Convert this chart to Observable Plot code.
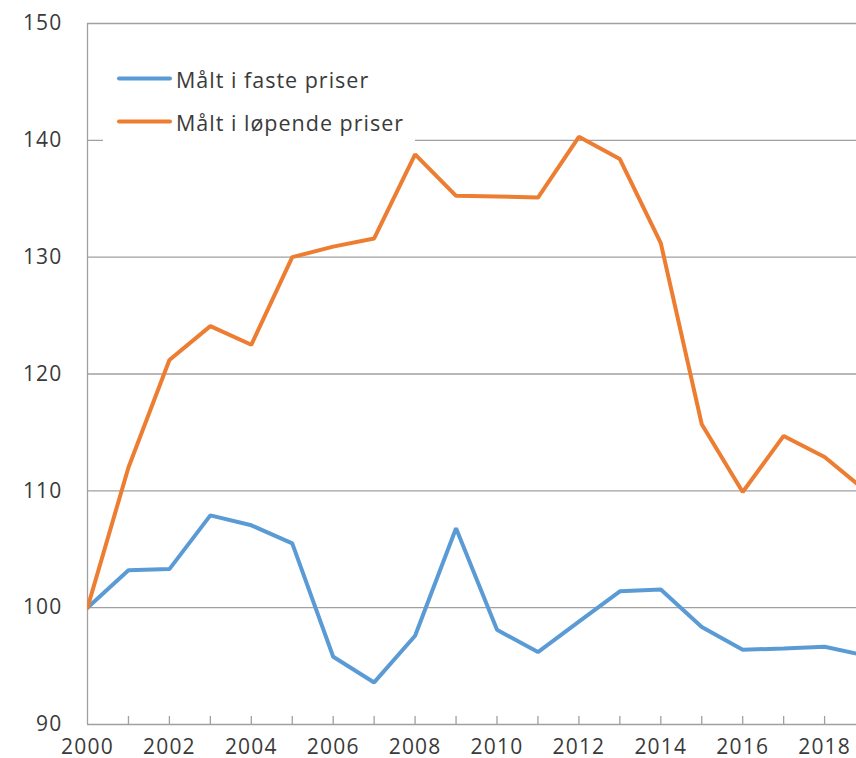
<!DOCTYPE html>
<html>
<head>
<meta charset="utf-8">
<script src="https://cdn.jsdelivr.net/npm/d3@7"></script>
<script src="https://cdn.jsdelivr.net/npm/@observablehq/plot@0.6"></script>
<style>
  html, body { margin: 0; padding: 0; background: #fff; }
  #wrap { position: relative; width: 856px; height: 758px; font-family: "Open Sans", sans-serif; }
  #wrap svg text { letter-spacing: 1.2px; }
  #legend { position: absolute; left: 103px; top: 44px; width: 312px; height: 98px; background: #fff; }
  .item { position: absolute; left: 14px; display: flex; align-items: center; font-size: 21.5px; letter-spacing: 1px; color: #3a3a3a; white-space: nowrap; }
  .sw { width: 55px; height: 4px; border-radius: 2px; margin-right: 4px; }
</style>
</head>
<body>
<div id="wrap"></div>
<script>
const years = [2000,2001,2002,2003,2004,2005,2006,2007,2008,2009,2010,2011,2012,2013,2014,2015,2016,2017,2018,2019];
const fastePriser = [100,103.2,103.3,107.9,107.05,105.5,95.8,93.6,97.6,106.8,98.1,96.2,98.8,101.4,101.55,98.35,96.4,96.5,96.65,95.9];
const lopendePriser = [100,112.0,121.2,124.1,122.5,130.0,130.9,131.6,138.8,135.25,135.2,135.1,140.3,138.4,131.2,115.7,109.9,114.7,112.9,110.0];
const seriesNames = ["Målt i faste priser", "Målt i løpende priser"];
const seriesColors = ["#5b9bd5", "#ed7d31"];
const yTicks = [90,100,110,120,130,140,150];
const xLabelYears = [2000,2002,2004,2006,2008,2010,2012,2014,2016,2018];

const rows = [];
years.forEach((y, i) => {
  rows.push({year: y, value: fastePriser[i], series: seriesNames[0]});
  rows.push({year: y, value: lopendePriser[i], series: seriesNames[1]});
});

const grid = "#a0a0a0";
const chart = Plot.plot({
  width: 856,
  height: 758,
  marginLeft: 87,
  marginRight: 0,
  marginTop: 23,
  marginBottom: 34,
  style: {fontFamily: "Open Sans, sans-serif", fontSize: "21px", color: "#3a3a3a", background: "#fff"},
  x: {type: "linear", domain: [2000, 2000 + 769 / 40.95]},
  y: {domain: [90, 150]},
  color: {domain: seriesNames, range: seriesColors},
  marks: [
    Plot.ruleY(yTicks, {stroke: grid, strokeWidth: 1.3}),
    Plot.ruleX([2000], {stroke: grid, strokeWidth: 1.3}),
    Plot.ruleX(years.filter(y => y > 2000), {y1: 90, y2: 90 + 8 / 11.69, stroke: grid, strokeWidth: 1.3, clip: true}),
    Plot.axisY(yTicks, {tickSize: 0, tickPadding: 25, label: null, tickFormat: d => String(d), fill: "#3a3a3a"}),
    Plot.axisX(xLabelYears, {tickSize: 0, tickPadding: 15, label: null, tickFormat: d => String(d), fill: "#3a3a3a"}),
    Plot.line(rows, {x: "year", y: "value", z: "series", stroke: "series", strokeWidth: 4, strokeLinejoin: "miter", clip: true})
  ]
});

const wrap = document.getElementById("wrap");
wrap.appendChild(chart);
const legend = document.createElement("div");
legend.id = "legend";
seriesNames.forEach((name, i) => {
  const item = document.createElement("div");
  item.className = "item";
  item.style.top = (i === 0 ? 34.5 : 77.5) + "px";
  item.style.transform = "translateY(-50%)";
  const sw = document.createElement("span");
  sw.className = "sw";
  sw.style.background = seriesColors[i];
  const t = document.createElement("span");
  t.textContent = name;
  item.appendChild(sw);
  item.appendChild(t);
  legend.appendChild(item);
});
wrap.appendChild(legend);
</script>
</body>
</html>
